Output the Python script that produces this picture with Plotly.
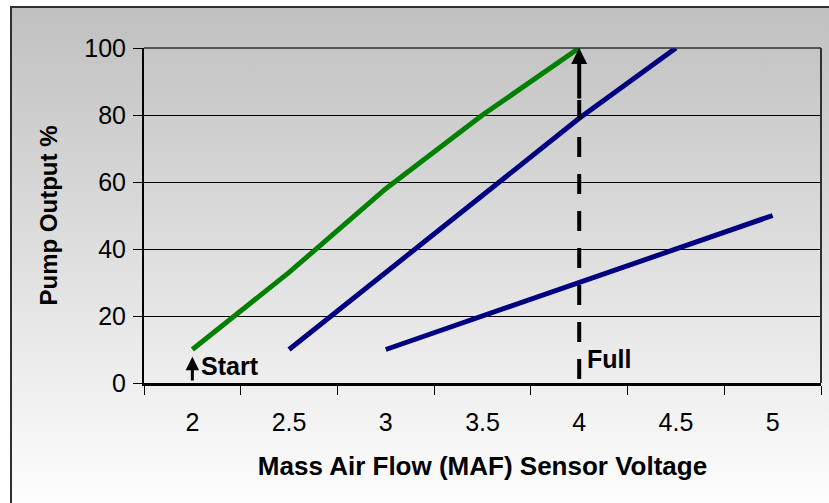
import base64
import plotly.graph_objects as go

# ---- data ----
categories = ["2", "2.5", "3", "3.5", "4", "4.5", "5"]
green_x = ["2", "2.5", "3", "3.5", "4"]
green_y = [10, 33, 58, 80, 100]
blue1_x = ["2.5", "3", "3.5", "4", "4.5"]
blue1_y = [10, 33, 56, 79, 100]
blue2_x = ["3", "3.5", "4", "4.5", "5"]
blue2_y = [10, 20, 30, 40, 50]
y_ticks = [0, 20, 40, 60, 80, 100]
start_label = "Start"
full_label = "Full"
full_index = categories.index("4")
start_index = categories.index("2")

# ---- layout geometry (pixels) ----
W, H = 829, 503
ml, mr, mt, mb = 144, 8, 48, 120
pw, ph = W - ml - mr, H - mt - mb

# gradient chart-area background as an inline SVG
fx0, fy0 = 10, 6
fw, fh = W - fx0 + 20, H - fy0 + 20
svg = f'''<svg xmlns="http://www.w3.org/2000/svg" width="{fw}" height="{fh}" viewBox="0 0 {fw} {fh}">
<defs><linearGradient id="g" x1="0" y1="0" x2="0" y2="1">
<stop offset="0" stop-color="#c0c0c0"/><stop offset="0.97" stop-color="#ffffff"/></linearGradient></defs>
<rect x="1" y="1" width="{fw+10}" height="{fh+10}" fill="url(#g)" stroke="#303030" stroke-width="2"/>
</svg>'''
src = "data:image/svg+xml;base64," + base64.b64encode(svg.encode()).decode()

FONT = "Liberation Sans, Arial, sans-serif"

fig = go.Figure()
fig.add_trace(go.Scatter(x=green_x, y=green_y, mode="lines",
                         line=dict(color="#008000", width=5), showlegend=False))
fig.add_trace(go.Scatter(x=blue1_x, y=blue1_y, mode="lines",
                         line=dict(color="#000080", width=5), showlegend=False))
fig.add_trace(go.Scatter(x=blue2_x, y=blue2_y, mode="lines",
                         line=dict(color="#000080", width=5), showlegend=False))

fig.update_layout(
    width=W, height=H,
    margin=dict(l=ml, r=mr, t=mt, b=mb, autoexpand=False),
    paper_bgcolor="white",
    plot_bgcolor="rgba(0,0,0,0)",
    font=dict(family=FONT, color="black", size=25),
    showlegend=False,
    images=[dict(source=src, xref="paper", yref="paper",
                 x=(fx0 - ml) / pw, y=(H - mb - fy0) / ph,
                 sizex=fw / pw, sizey=fh / ph,
                 xanchor="left", yanchor="top", sizing="stretch", layer="below")],
)

fig.update_xaxes(
    type="category", categoryorder="array", categoryarray=categories,
    range=[-0.5, len(categories) - 0.5],
    tickmode="array", tickvals=categories, ticktext=categories,
    tickson="boundaries", ticks="outside", ticklen=9, tickwidth=1, tickcolor="black",
    ticklabelstandoff=15,
    showgrid=False, showline=True, linecolor="black", linewidth=3, zeroline=False,
    tickfont=dict(size=25, family=FONT),
    title=dict(text="<b>Mass Air Flow (MAF) Sensor Voltage</b>",
               font=dict(size=26, family=FONT), standoff=22),
)
fig.update_yaxes(
    range=[0, 100], tickmode="array", tickvals=y_ticks,
    ticks="outside", ticklen=9, tickwidth=1, tickcolor="black",
    ticklabelstandoff=2,
    showgrid=True, gridcolor="black", gridwidth=1,
    showline=True, linecolor="black", linewidth=2, zeroline=False,
    tickfont=dict(size=25, family=FONT),
    title=dict(text="<b>Pump Output %</b>", font=dict(size=24, family=FONT), standoff=20),
)

# plot-area top/right border
fig.add_shape(type="line", xref="paper", yref="paper", x0=0, x1=1, y0=1, y1=1,
              line=dict(color="#303030", width=1.5))
fig.add_shape(type="line", xref="paper", yref="paper", x0=1, x1=1, y0=0, y1=1,
              line=dict(color="#303030", width=2))

# dashed "Full" line at x=4
fig.add_shape(type="line", xref="x", yref="y", x0=full_index, x1=full_index,
              y0=84.5, y1=0, line=dict(color="black", width=4, dash="20px,17px"))
fig.add_annotation(x=full_index, y=100, ax=full_index, ay=84.5, axref="x", ayref="y",
                   xref="x", yref="y", text="", showarrow=True,
                   arrowhead=2, arrowsize=0.8, arrowwidth=4, arrowcolor="black")
fig.add_annotation(x=full_index, y=7.2, xref="x", yref="y", text=f"<b>{full_label}</b>",
                   showarrow=False, xanchor="left", xshift=6,
                   font=dict(size=25, family=FONT, color="black"))

# "Start" arrow
fig.add_annotation(x=start_index, y=7.8, ax=start_index, ay=0.3, axref="x", ayref="y",
                   xref="x", yref="y", text="", showarrow=True,
                   arrowhead=2, arrowsize=0.9, arrowwidth=3, arrowcolor="black")
fig.add_annotation(x=start_index, y=5.0, xref="x", yref="y", text=f"<b>{start_label}</b>",
                   showarrow=False, xanchor="left", xshift=7,
                   font=dict(size=25, family=FONT, color="black"))

fig.write_html("out.html", config={"displayModeBar": False},
               post_script="document.body.style.margin='0';document.body.style.padding='0';")
